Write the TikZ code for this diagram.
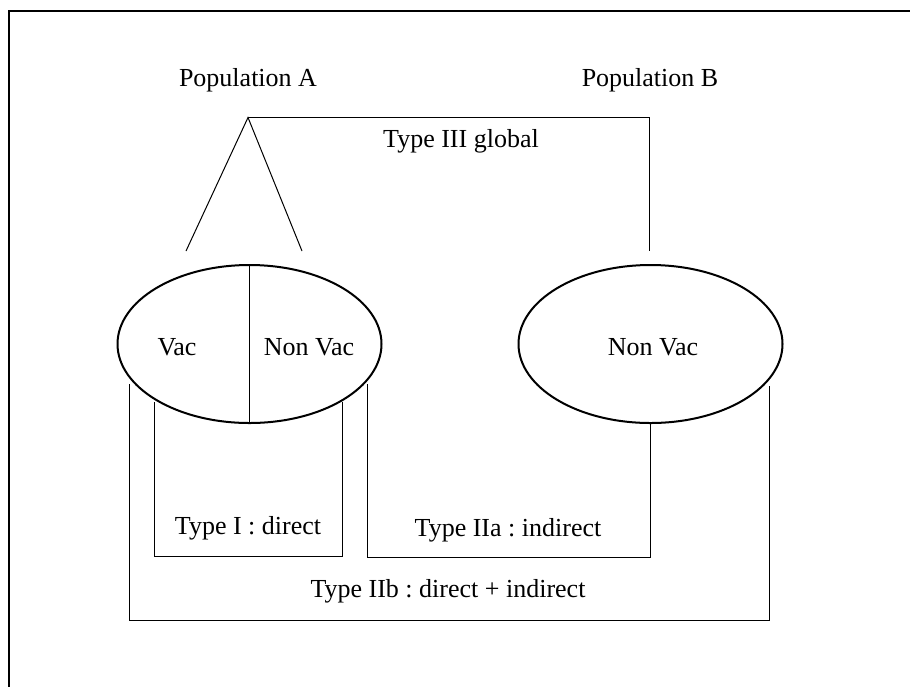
\documentclass[tikz,border=0pt]{standalone}
\usepackage{fontspec}
\setmainfont{Liberation Serif}
\frenchspacing
\usetikzlibrary{shapes.geometric, positioning}
\tikzset{
  lbl/.style={inner sep=1pt, font=\fontsize{13}{15}\selectfont},
  pop/.style={ellipse, draw, line width=1pt, minimum width=132pt, minimum height=79pt, inner sep=0pt},
  link/.style={line width=0.5pt}
}

\begin{document}
\begin{tikzpicture}[x=0.5pt, y=-0.5pt]
        \useasboundingbox (0,0) rectangle (910,687);

        % Draw the frame
        \draw[line width=0.75pt] (910,11) -- (9,11) -- (9,687);

        % Population names
        \node[lbl] (popA) at (248,80) {Population A};
        \node[lbl] (popB) at (650,80) {Population B};

        % The two populations
        \node[pop] (ellA) at (249.5,344) {};
        \node[pop] (ellB) at (650.5,344) {};
        \draw[link] (ellA.north) -- (ellA.south);
        \node[lbl] (vac) at (177,347) {Vac};
        \node[lbl] (nonvacA) at (309,347) {Non Vac};
        \node[lbl] (nonvacB) at (653,347) {Non Vac};

        % Split of population A and type III
        \coordinate (apex) at (248,117.5);
        \coordinate (legA) at (186,251);
        \coordinate (legB) at (302,251);
        \coordinate (endB) at (649,251);
        \draw[link] (legA) -- (apex) -- (legB);
        \draw[link] (apex) -| (endB);
        \node[lbl] (typeIII) at (461,141) {Type III global};

        % Type I : vac vs non vac in A
        \coordinate (tIa) at (154,402);
        \coordinate (tIb) at (342,402);
        \draw[link] (tIa) -- ++(0,154) -| (tIb);
        \node[lbl] (typeI) at (248,528) {Type I : direct};

        % Type IIa : non vac in A vs non vac in B
        \coordinate (tIIa) at (367,384);
        \draw[link] (tIIa) -- ++(0,173) -| (ellB.south);
        \node[lbl] (typeIIa) at (508,530) {Type IIa : indirect};

        % Type IIb : vac in A vs non vac in B
        \coordinate (tIIbL) at (129,384);
        \coordinate (tIIbR) at (769,386);
        \draw[link] (tIIbL) -- ++(0,236) -| (tIIbR);
        \node[lbl] (typeIIb) at (448,591) {Type IIb : direct + indirect};

    \end{tikzpicture}
\end{document}
